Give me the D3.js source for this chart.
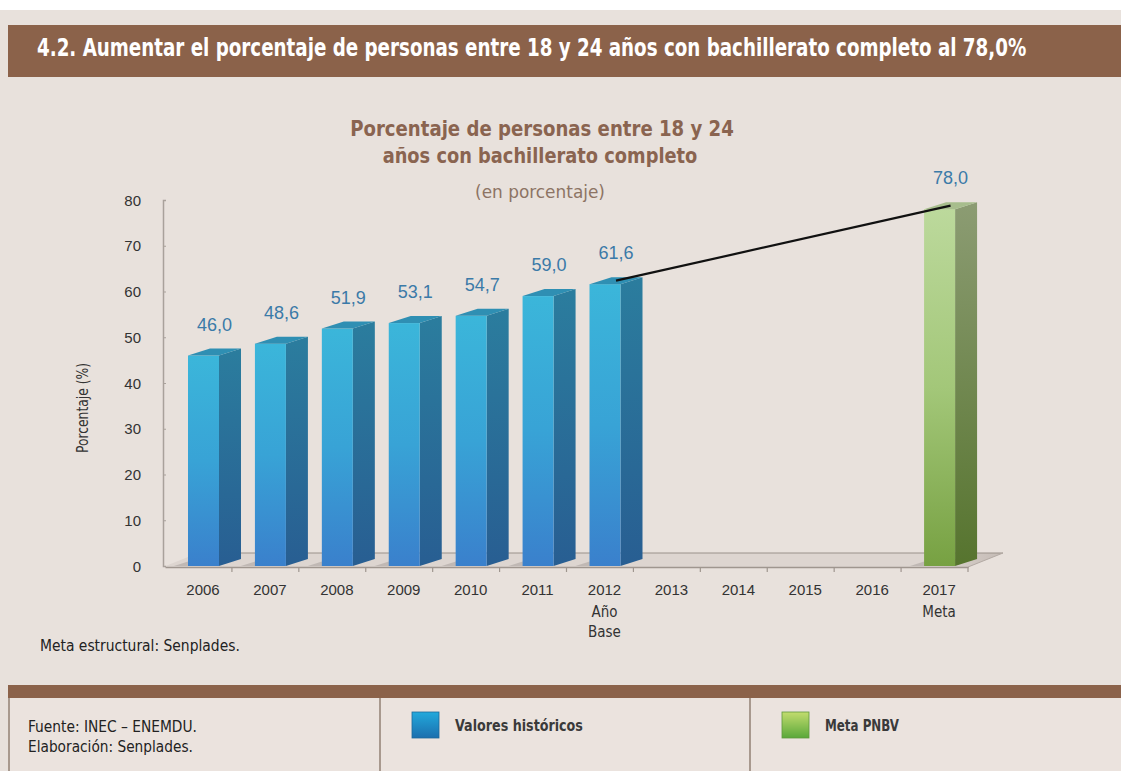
<!DOCTYPE html>
<html>
<head>
<meta charset="utf-8">
<script src="https://cdn.jsdelivr.net/npm/d3@7"></script>
<style>
  html, body { margin: 0; padding: 0; background: #ffffff; }
  svg { display: block; }
  .narrow { font-family: "Liberation Sans Narrow", "DejaVu Sans Condensed", "Liberation Sans", sans-serif; }
  .sans { font-family: "Liberation Sans", Arial, sans-serif; }
</style>
</head>
<body>
<svg id="chart" width="1121" height="771"></svg>
<script>
// ---- data ----
const years = ["2006", "2007", "2008", "2009", "2010", "2011", "2012", "2013", "2014", "2015", "2016", "2017"];
const historicYears = ["2006", "2007", "2008", "2009", "2010", "2011", "2012"];
const historicValues = [46.0, 48.6, 51.9, 53.1, 54.7, 59.0, 61.6];
const goalYears = ["2017"];
const goalValues = [78.0];
const yTicks = [0, 10, 20, 30, 40, 50, 60, 70, 80];
const yearNotes = { "2012": ["Año", "Base"], "2017": ["Meta"] };

const headerText = "4.2. Aumentar el porcentaje de personas entre 18 y 24 años con bachillerato completo al 78,0%";
const titleLines = ["Porcentaje de personas entre 18 y 24", "años con bachillerato completo"];
const subtitle = "(en porcentaje)";
const yTitle = "Porcentaje (%)";
const noteText = "Meta estructural: Senplades.";
const sourceLines = ["Fuente: INEC – ENEMDU.", "Elaboración: Senplades."];
const legendLabels = ["Valores históricos", "Meta PNBV"];

// ---- setup ----
const svg = d3.select("#chart");
const W = 1121, H = 771;
const fmt = v => d3.format(".1f")(v).replace(".", ",");

const x = d3.scaleBand().domain(years).range([165, 968]).padding(0);
const y = d3.scaleLinear().domain([0, 80]).range([566, 200]);

const barOffset = 23, barW = 31, depthX = 22, depthY = -7;
const floorDX = 35, floorDY = -14;

// Draws a condensed text squeezed horizontally to a given width.
// anchor: "start" | "middle"
function fitText(parent, { x: tx, y: ty, text, width, size, weight, fill, anchor = "start", rotate = 0 }) {
  const g = parent.append("g");
  const t = g.append("text").attr("class", "narrow")
    .attr("font-size", size).attr("font-weight", weight || "normal").attr("fill", fill)
    .attr("text-anchor", anchor).text(text);
  const natural = t.node().getComputedTextLength() || width;
  const sx = width / natural;
  g.attr("transform", `translate(${tx},${ty}) rotate(${rotate}) scale(${sx},1)`);
  return g;
}

const defs = svg.append("defs");
function vGrad(id, stops) {
  const g = defs.append("linearGradient").attr("id", id)
    .attr("x1", 0).attr("y1", 0).attr("x2", 0).attr("y2", 1);
  stops.forEach(s => g.append("stop").attr("offset", s[0]).attr("stop-color", s[1]));
}
function hGrad(id, stops) {
  const g = defs.append("linearGradient").attr("id", id)
    .attr("x1", 0).attr("y1", 0).attr("x2", 1).attr("y2", 0);
  stops.forEach(s => g.append("stop").attr("offset", s[0]).attr("stop-color", s[1]));
}
vGrad("blueFront", [[0, "#3bb6da"], [0.5, "#38a3d6"], [1, "#3a80cc"]]);
vGrad("blueSide", [[0, "#2b7d9e"], [1, "#285e92"]]);
vGrad("greenFront", [[0, "#bcd99c"], [0.5, "#a3c779"], [1, "#77a142"]]);
vGrad("greenSide", [[0, "#8c9c73"], [1, "#56742e"]]);
vGrad("legBlue", [[0, "#22a9dc"], [1, "#1b6fae"]]);
vGrad("legGreen", [[0, "#c2dc6e"], [1, "#5aa83a"]]);
hGrad("floorShade", [[0, "#ddd5d0"], [0.92, "#ddd5d0"], [1, "#c4bbb5"]]);

// background
svg.append("rect").attr("x", 0).attr("y", 0).attr("width", W).attr("height", H).attr("fill", "#ffffff");
svg.append("rect").attr("x", 0).attr("y", 10).attr("width", W).attr("height", H - 10).attr("fill", "#e8e1dc");

// header band
svg.append("rect").attr("x", 8).attr("y", 25).attr("width", W - 8).attr("height", 52).attr("fill", "#8b624a");
fitText(svg, { x: 37, y: 56, text: headerText, width: 990, size: 25, weight: "bold", fill: "#ffffff" });

// chart title
fitText(svg, { x: 542, y: 136, text: titleLines[0], width: 384, size: 22, weight: "bold", fill: "#8a6450", anchor: "middle" });
fitText(svg, { x: 540, y: 163, text: titleLines[1], width: 315, size: 22, weight: "bold", fill: "#8a6450", anchor: "middle" });
fitText(svg, { x: 540, y: 198, text: subtitle, width: 130, size: 18, fill: "#8d7464", anchor: "middle" });

// floor (3D base)
const x0 = x.range()[0] - 2, x1 = x.range()[1];
const fy = y(0) + 1;
svg.append("polygon")
  .attr("points", [[x0, fy], [x1, fy], [x1 + floorDX, fy + floorDY], [x0 + floorDX, fy + floorDY]].map(p => p.join(",")).join(" "))
  .attr("fill", "url(#floorShade)").attr("stroke", "none");
svg.append("line").attr("x1", x0 + floorDX).attr("y1", fy + floorDY).attr("x2", x1 + floorDX).attr("y2", fy + floorDY)
  .attr("stroke", "#9a918a").attr("stroke-width", 1.2);
svg.append("line").attr("x1", x1).attr("y1", fy).attr("x2", x1 + floorDX).attr("y2", fy + floorDY)
  .attr("stroke", "#b3aaa4").attr("stroke-width", 1);

// y axis
const yAxis = d3.axisRight(y).tickValues(yTicks).tickSize(3).tickFormat("");
const yAxisG = svg.append("g").attr("transform", "translate(163,0)").call(yAxis);
yAxisG.select(".domain").attr("stroke", "#a9a19b").attr("stroke-width", 1.5);
yAxisG.selectAll(".tick line").attr("stroke", "#a9a19b");
svg.append("g").selectAll("text").data(yTicks).join("text")
  .attr("class", "sans")
  .attr("x", 141).attr("y", d => y(d) + 5.5)
  .attr("text-anchor", "end").attr("font-size", 15).attr("fill", "#333333")
  .text(d => d);

fitText(svg, { x: 88, y: 408, text: yTitle, width: 90, size: 15, fill: "#333333", anchor: "middle", rotate: -90 });

// x axis (front edge of floor)
const xAxis = d3.axisBottom(x).tickSize(0).tickFormat("");
const xAxisG = svg.append("g").attr("transform", `translate(0,${fy})`).call(xAxis);
xAxisG.select(".domain").attr("stroke", "#9f968f").attr("stroke-width", 1.5);
const bounds = years.map(d => x(d) + x.bandwidth());
svg.append("g").selectAll("line").data(bounds).join("line")
  .attr("x1", d => d).attr("x2", d => d).attr("y1", fy).attr("y2", fy + 5)
  .attr("stroke", "#9f968f").attr("stroke-width", 1.2);

svg.append("g").selectAll("text").data(years).join("text")
  .attr("class", "sans")
  .attr("x", d => x(d) + 38).attr("y", 595)
  .attr("text-anchor", "middle").attr("font-size", 15).attr("fill", "#333333")
  .text(d => d);

Object.entries(yearNotes).forEach(([yr, lines]) => {
  lines.forEach((t, i) => {
    svg.append("text").attr("class", "narrow")
      .attr("x", x(yr) + 38).attr("y", 617 + i * 20)
      .attr("text-anchor", "middle").attr("font-size", 15).attr("fill", "#333333")
      .text(t);
  });
});

// bars
function drawBars(cats, vals, front, side, top, shadowCol) {
  const data = cats.map((c, i) => ({ c, v: vals[i] }));
  const g = svg.append("g");
  data.forEach(d => {
    const bx = x(d.c) + barOffset;
    const yt = y(d.v), yb = y(0);
    // soft shadow on the floor
    g.append("polygon")
      .attr("points", [[bx - 14, yb], [bx, yb], [bx + depthX, yb + depthY], [bx + depthX - 14, yb + depthY]].map(p => p.join(",")).join(" "))
      .attr("fill", shadowCol).attr("opacity", 0.35);
    g.append("polygon")
      .attr("points", [[bx + barW, yt], [bx + barW + depthX, yt + depthY], [bx + barW + depthX, yb + depthY], [bx + barW, yb]].map(p => p.join(",")).join(" "))
      .attr("fill", side);
    g.append("rect").attr("x", bx).attr("y", yt).attr("width", barW).attr("height", yb - yt).attr("fill", front);
    g.append("polygon")
      .attr("points", [[bx, yt], [bx + depthX, yt + depthY], [bx + barW + depthX, yt + depthY], [bx + barW, yt]].map(p => p.join(",")).join(" "))
      .attr("fill", top);
  });
  return data;
}
const hist = drawBars(historicYears, historicValues, "url(#blueFront)", "url(#blueSide)", "#2f8fb3", "#8a8580");
const goal = drawBars(goalYears, goalValues, "url(#greenFront)", "url(#greenSide)", "#a7bd8d", "#8a8580");

// connector from base year to goal
const topCenter = d => [x(d.c) + barOffset + barW / 2 + depthX / 2, y(d.v) + depthY / 2];
const last = hist[hist.length - 1];
svg.append("line")
  .attr("x1", topCenter(last)[0]).attr("y1", topCenter(last)[1])
  .attr("x2", topCenter(goal[0])[0]).attr("y2", topCenter(goal[0])[1])
  .attr("stroke", "#111111").attr("stroke-width", 2.2);

// value labels
svg.append("g").selectAll("text").data(hist.concat(goal)).join("text")
  .attr("class", "sans")
  .attr("x", d => x(d.c) + barOffset + (barW + depthX) / 2)
  .attr("y", d => y(d.v) - 25)
  .attr("text-anchor", "middle").attr("font-size", 18).attr("fill", "#3b7aa8")
  .text(d => fmt(d.v));

// note
fitText(svg, { x: 40, y: 651, text: noteText, width: 200, size: 16, fill: "#222222" });

// footer panel
svg.append("rect").attr("x", 8).attr("y", 685).attr("width", W - 8).attr("height", 13).attr("fill", "#8b624a");
svg.append("rect").attr("x", 9).attr("y", 698).attr("width", W - 9).attr("height", H - 698).attr("fill", "#ebe3de");
[9, 380, 750].forEach(px => {
  svg.append("line").attr("x1", px).attr("x2", px).attr("y1", 698).attr("y2", H)
    .attr("stroke", "#a8998e").attr("stroke-width", 2);
});
sourceLines.forEach((t, i) => {
  fitText(svg, { x: 28, y: 732 + i * 20, text: t, width: i === 0 ? 169 : 165, size: 16, fill: "#222222" });
});
const legendItems = [
  { label: legendLabels[0], fill: "url(#legBlue)", stroke: "#1c6a9c", sx: 412, tx: 455, tl: 128 },
  { label: legendLabels[1], fill: "url(#legGreen)", stroke: "#5f9a3c", sx: 782, tx: 825, tl: 74 }
];
legendItems.forEach(it => {
  svg.append("rect").attr("x", it.sx).attr("y", 712).attr("width", 27).attr("height", 26)
    .attr("fill", it.fill).attr("stroke", it.stroke).attr("stroke-width", 0.8);
  fitText(svg, { x: it.tx, y: 731, text: it.label, width: it.tl, size: 16, weight: "bold", fill: "#3a3a3a" });
});
</script>
</body>
</html>
